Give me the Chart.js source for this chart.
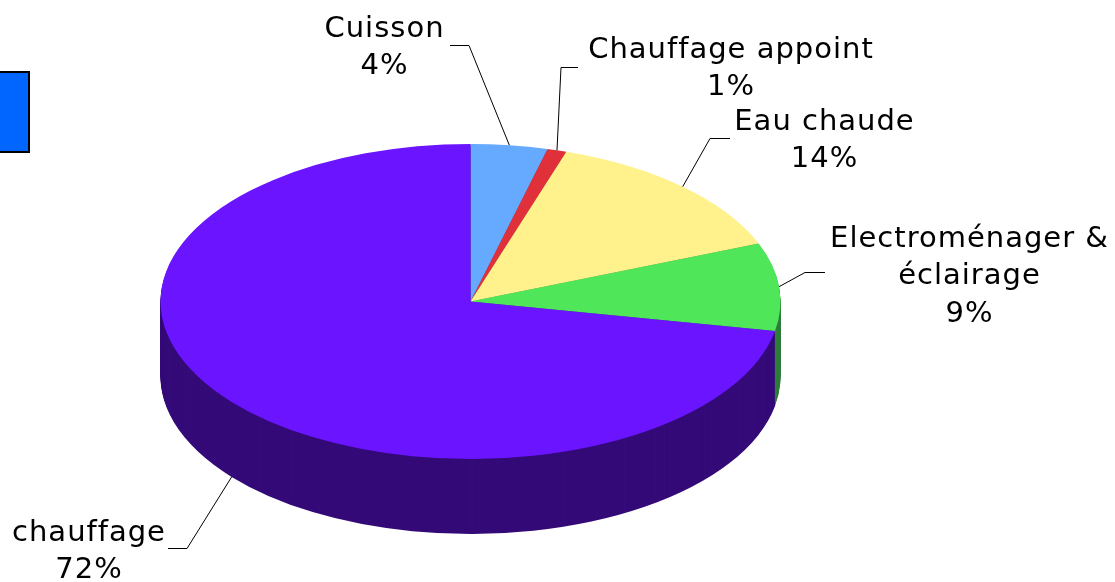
<!DOCTYPE html>
<html lang="fr">
<head>
<meta charset="utf-8">
<title>Répartition des consommations</title>
<script src="https://cdn.jsdelivr.net/npm/chart.js@4"></script>
<style>
  html, body { margin: 0; background: #fff; overflow: hidden; }
  #wrap { position: relative; width: 1115px; height: 582px; }
</style>
</head>
<body>
<div id="wrap"><canvas id="chart"></canvas></div>
<script>
"use strict";

const CATEGORIES = ["Cuisson", "Chauffage appoint", "Eau chaude", "Electroménager & éclairage", "chauffage"];
const VALUES = [4, 1, 14, 9, 72];

const TOP_COLORS = ["#66aaff", "#e0303a", "#fff28c", "#50e65a", "#6a14ff"];
const SIDE_COLORS = ["#3a6699", "#861d23", "#998f54", "#2f7d3c", "#340a78"];

// Pie projection: flattened ellipse with an extruded wall
const PIE = { cx: 470.5, cy: 301.5, rx: 310, ry: 157.5, depth: 75 };

// Label blocks and leader line elbows, same order as CATEGORIES
const LABEL_LINES = [["Cuisson"], ["Chauffage appoint"], ["Eau chaude"], ["Electroménager &", "éclairage"], ["chauffage"]];
const LABEL_POS = [[384.5, 29], [731, 50], [824.5, 122], [969.5, 239], [89, 533]];
const ELBOWS = [[469, 45.5], [561, 67.5], [710, 138.5], [805, 272.5], [187, 548.5]];
const LINE_ENDS = [[450, 45.5], [578, 67.5], [730, 138.5], [825, 272.5], [168, 548.5]];
const LINE_HEIGHT = 37.5;

function project(ctx, arc) {
  const r = arc.outerRadius;
  ctx.translate(PIE.cx, PIE.cy);
  ctx.scale(PIE.rx / r, PIE.ry / r);
  ctx.translate(-arc.x, -arc.y);
}

const pie3d = {
  id: "pie3d",
  beforeDatasetDraw(chart, args) {
    const ctx = chart.ctx;
    const arcs = args.meta.data;
    // wall first, one slice layer per pixel of depth
    arcs.forEach((arc, i) => {
      const opts = arc.options;
      arc.options = Object.create(opts);
      arc.options.backgroundColor = SIDE_COLORS[i];
      for (let d = PIE.depth; d > 0; d--) {
        ctx.save();
        ctx.translate(0, d);
        project(ctx, arc);
        arc.draw(ctx);
        ctx.restore();
      }
      arc.options = opts;
    });
    ctx.save();
    project(ctx, arcs[0]);
  },
  afterDatasetDraw(chart) {
    chart.ctx.restore();
  },
  afterDraw(chart) {
    const ctx = chart.ctx;
    const arcs = chart.getDatasetMeta(0).data;

    // leftover legend marker on the left edge
    ctx.fillStyle = "#0066ff";
    ctx.strokeStyle = "#000";
    ctx.lineWidth = 2;
    ctx.fillRect(-2, 72, 31, 80);
    ctx.strokeRect(-2, 72, 31, 80);

    ctx.strokeStyle = "#000";
    ctx.lineWidth = 1;
    arcs.forEach((arc, i) => {
      const mid = (arc.startAngle + arc.endAngle) / 2;
      const x = PIE.cx + PIE.rx * Math.cos(mid);
      let y = PIE.cy + PIE.ry * Math.sin(mid);
      if (y > PIE.cy + 20) y += PIE.depth;
      ctx.beginPath();
      ctx.moveTo(x, y);
      ctx.lineTo(ELBOWS[i][0], ELBOWS[i][1]);
      ctx.lineTo(LINE_ENDS[i][0], LINE_ENDS[i][1]);
      ctx.stroke();
    });

    ctx.fillStyle = "#000";
    ctx.font = '29px "DejaVu Sans"';
    ctx.letterSpacing = "1px";
    ctx.textAlign = "center";
    ctx.textBaseline = "middle";
    LABEL_LINES.forEach((lines, i) => {
      const rows = lines.concat(VALUES[i] + "%");
      rows.forEach((t, j) => ctx.fillText(t, LABEL_POS[i][0], LABEL_POS[i][1] + j * LINE_HEIGHT));
    });
  },
};

new Chart(document.getElementById("chart"), {
  type: "pie",
  data: {
    labels: CATEGORIES,
    datasets: [{ data: VALUES, backgroundColor: TOP_COLORS, borderWidth: 0, clip: false }],
  },
  options: {
    responsive: true,
    maintainAspectRatio: false,
    animation: false,
    plugins: { legend: { display: false }, tooltip: { enabled: false } },
  },
  plugins: [pie3d],
});
</script>
</body>
</html>
